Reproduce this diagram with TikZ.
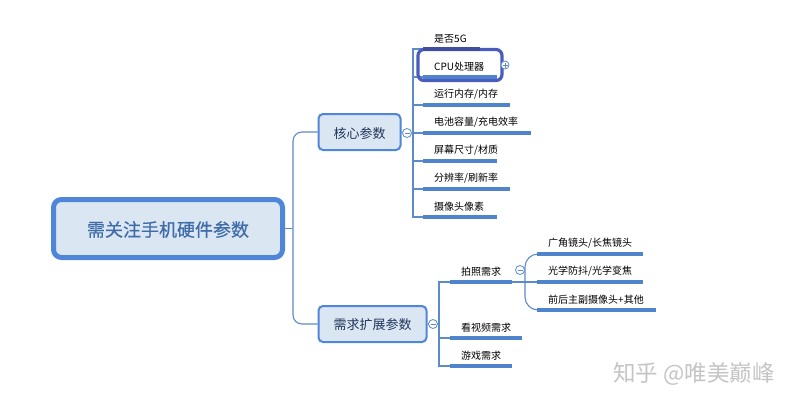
\documentclass[tikz,border=0pt]{standalone}
\usepackage{fontspec}
\setmainfont{Noto Sans CJK SC}
\newfontfamily\rootfont[FakeBold=0.5]{Noto Sans CJK SC}
\usetikzlibrary{calc}
\definecolor{linec}{HTML}{5B8BC9}
\definecolor{rulec}{HTML}{4F83CC}
\definecolor{boxfill}{HTML}{DBE6F3}
\definecolor{boxline}{HTML}{4F86D8}
\definecolor{roottext}{HTML}{3F6CA8}
\definecolor{subtext}{HTML}{22365A}
\definecolor{selc}{HTML}{4A5CBC}
\definecolor{markc}{HTML}{C4C4C4}
\tikzset{
  conn/.style={draw=linec,line width=1.1pt},
  curvy/.style={conn,rounded corners=9pt},
  curvier/.style={conn,rounded corners=13pt},
  underrule/.style={draw=rulec,line width=3.2pt},
  rootbox/.style={draw=boxline,fill=boxfill,line width=5pt,rounded corners=8pt,minimum width=229pt,minimum height=58pt,outer sep=2.5pt,inner sep=0pt,text=roottext,font=\rootfont\fontsize{18}{20}\selectfont},
  mainbox/.style={draw=boxline,fill=boxfill,line width=2pt,rounded corners=4.5pt,minimum height=36pt,outer sep=1pt,inner sep=0pt,text=subtext,font=\fontsize{13}{15}\selectfont},
  leaf/.style={anchor=west,inner sep=0pt,text=black,font=\fontsize{10}{12}\selectfont},
  toggle/.style={circle,draw=linec,fill=white,line width=.8pt,minimum size=9pt,inner sep=0pt},
  selbox/.style={draw=selc,line width=3.2pt,rounded corners=6pt,minimum width=84pt,minimum height=31pt,inner sep=0pt},
  wmark/.style={anchor=west,inner sep=0pt,text=markc,font=\fontsize{22.5}{25}\selectfont}
}
\newcommand{\nudged}[2]{\raisebox{-#1pt}[\height][\depth]{#2}}
% name, x1, x2, y of rule, text
\newcommand{\leafitem}[5]{%
  \coordinate (#1L) at (#2,#4);
  \coordinate (#1R) at (#3,#4);
  \node[leaf] (#1) at ($(#2,#4)+(11,-10.5)$) {#5};
  \draw[underrule] (#1L) -- (#1R);
}
\begin{document}
\begin{tikzpicture}[x=1pt,y=-1pt]
\useasboundingbox (0,0) rectangle (796,408);
\node[rootbox] (root) at (168,228.5) {\nudged{1}{需关注手机硬件参数}};
\node[mainbox,minimum width=82pt] (core) at (359.5,132) {\nudged{2}{核心参数}};
\node[mainbox,minimum width=108pt] (ext) at (372.5,324) {\nudged{1}{需求扩展参数}};
\coordinate (hub) at (293,228.5);
\draw[conn] (root.east) -- (hub);
\draw[curvy] (hub) |- (core.west);
\draw[curvy] (hub) |- (ext.west);

\coordinate (railA) at (413,133);
\coordinate (railB) at (439,324);
\coordinate (railC) at (525,282);
\leafitem{a}{423}{480}{49}{是否5G}
\leafitem{b}{423}{497}{77}{CPU处理器}
\leafitem{c}{423}{510}{105}{运行内存/内存}
\leafitem{d}{423}{531}{133}{电池容量/充电效率}
\leafitem{e}{423}{497}{161}{屏幕尺寸/材质}
\leafitem{f}{423}{510}{189}{分辨率/刷新率}
\leafitem{g}{423}{497}{217}{摄像头像素}
\leafitem{h}{450}{512}{282}{拍照需求}
\leafitem{i}{450}{522}{338}{看视频需求}
\leafitem{j}{450}{512}{366}{游戏需求}
\leafitem{k}{537}{643}{254}{广角镜头/长焦镜头}
\leafitem{l}{537}{643}{282}{光学防抖/光学变焦}
\leafitem{m}{537}{656}{310}{前后主副摄像头+其他}
\draw[conn] (core.east) -- (railA);
\draw[conn] (ext.east) -- (railB);
\foreach \n in {a,b,c,d,e,f,g}{\draw[conn] (railA) |- (\n L);}
\foreach \n in {h,i,j}{\draw[conn] (railB) |- (\n L);}
\draw[conn] (hR) -- (lL);
\draw[curvier] (railC) |- (kL);
\draw[curvier] (railC) |- (mL);

\node[selbox] (sel) at (460,65) {};
\draw[underrule,draw=selc!85!black] (aL) -- (aR);
\node[toggle,minimum size=8pt] (plusb) at (505,65) {};
\draw[conn,line width=.7pt] ($(plusb)+(-2.5,0)$) -- ($(plusb)+(2.5,0)$);
\draw[conn,line width=.7pt] ($(plusb)+(0,-2.5)$) -- ($(plusb)+(0,2.5)$);
\node[toggle] (mincore) at (407,133) {};
\draw[conn,line width=.7pt] ($(mincore)+(-2.5,0)$) -- ($(mincore)+(2.5,0)$);
\node[toggle] (minext) at (433,324) {};
\draw[conn,line width=.7pt] ($(minext)+(-2.5,0)$) -- ($(minext)+(2.5,0)$);
\node[toggle] (minh) at (520,270) {};
\draw[conn,line width=.7pt] ($(minh)+(-2.5,0)$) -- ($(minh)+(2.5,0)$);

\node[wmark] (mark) at (613,374) {知乎 @唯美巅峰};
\end{tikzpicture}
\end{document}
